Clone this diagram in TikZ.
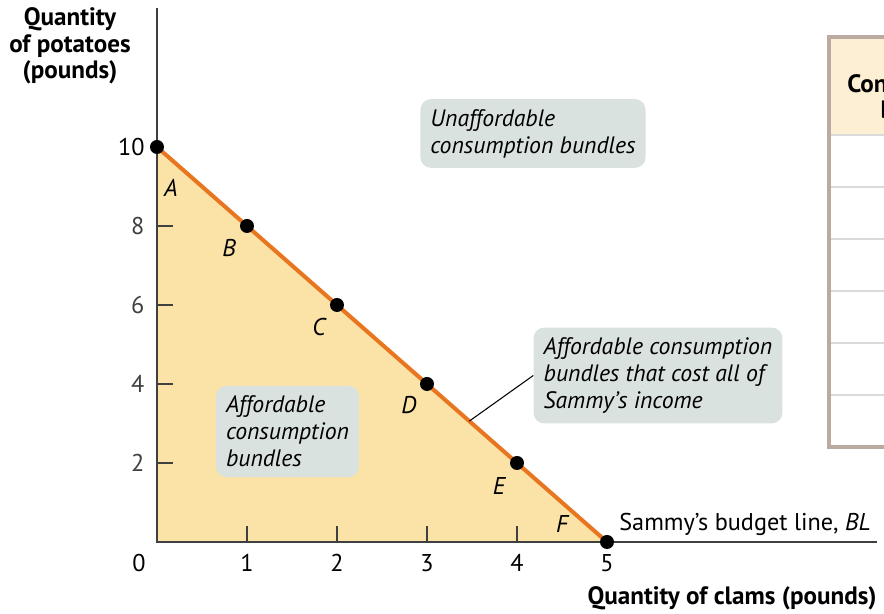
\documentclass[tikz,border=0pt]{standalone}
\usepackage{fontspec}
\setmainfont{PT Sans}
\usepackage{xcolor}
\definecolor{budget}{RGB}{232, 118, 32}
\definecolor{affordable}{RGB}{251, 227, 168}
\definecolor{notefill}{RGB}{218, 226, 223}
\definecolor{tableframe}{RGB}{187, 170, 160}
\definecolor{tablehead}{RGB}{252, 239, 212}
\definecolor{tablerule}{RGB}{218, 218, 218}
\usepackage{tikz}
\usetikzlibrary{positioning}

\tikzset{
	txt/.style={font=\fontsize{13.8}{16}\selectfont},
	bundle/.style={circle, fill=black, inner sep=0pt, minimum size=0.28cm},
	ptlabel/.style={font=\fontsize{13.8}{16}\selectfont\itshape},
	note/.style={fill=notefill, rounded corners=6pt, align=left, inner xsep=0.2cm, inner ysep=0.2cm, font=\fontsize{13.5}{15.4}\selectfont\itshape},
	axislabel/.style={font=\fontsize{14.3}{15.2}\selectfont\bfseries, align=center}
}

\begin{document}
\begin{tikzpicture}[x=1.8cm, y=0.79cm]
		\useasboundingbox (-3.14cm,-1.44cm) rectangle (14.54cm,10.84cm);
		\clip (-3.14cm,-1.44cm) rectangle (14.54cm,10.84cm);
		% affordable set
		\fill[affordable] (0,0) -- (0,10) -- (5,0) -- cycle;
		% axes and ticks
		\draw[black!75, line width=0.7pt] (0,13.52) -- (0,0) -- (8,0);
		\foreach \q in {2,4,6,8} \draw[black!75, line width=0.7pt] (0,\q) -- ++(0.32cm,0) node[txt, anchor=east, inner sep=0pt, xshift=-0.56cm]{\q};
		\foreach \q in {1,2,3,4} \draw[black!75, line width=0.7pt] (\q,0) -- ++(0,0.32cm);
		\foreach \q in {1,...,5} \node[txt] (xt\q) at (\q,0) [yshift=-0.42cm]{\q};
		\node[txt] (xt0) at (-0.36cm,-0.42cm) {0};
		\node[txt, anchor=east, inner sep=0pt] (yt10) at (-0.24cm,7.9cm) {10};
		\node[axislabel] (ylab) at (-1.74cm,9.92cm) {Quantity\\of potatoes\\(pounds)};
		\node[axislabel, anchor=east, inner sep=0pt] (xlab) at (14.4cm,-1.12cm) {Quantity of clams (pounds)};
		% budget line
		\draw[budget, line width=2.3pt] (0,10) -- (5,0);
		\node[bundle] (A) at (0,10) {};
		\node[bundle] (B) at (1,8) {};
		\node[bundle] (C) at (2,6) {};
		\node[bundle] (D) at (3,4) {};
		\node[bundle] (E) at (4,2) {};
		\node[bundle] (F) at (5,0) {};
		\node[ptlabel] at (0.28cm,7.08cm) {A};
		\node[ptlabel] at (1.44cm,5.88cm) {B};
		\node[ptlabel] at (3.24cm,4.30cm) {C};
		\node[ptlabel] at (5.04cm,2.74cm) {D};
		\node[ptlabel] at (6.84cm,1.12cm) {E};
		\node[ptlabel] at (8.10cm,0.36cm) {F};
		\node[txt, anchor=west, inner sep=0pt] (bl) at (9.24cm,0.36cm) {Sammy’s budget line, \textit{BL}};
		% notes
		\node[note] (unaff) at (7.52cm,8.17cm) {Unaffordable\\consumption bundles};
		\node[note] (aff) at (2.61cm,2.21cm) {Affordable\\consumption\\bundles};
		\node[note] (allinc) at (10.02cm,3.33cm) {Affordable consumption\\bundles that cost all of\\Sammy’s income};
		\coordinate (onbl) at (3.47,3.06);
		\draw[black, line width=0.6pt] (allinc.west) -- (onbl);
		% table at the right edge
		\fill[tablehead] (13.44cm,10.1cm) rectangle (15cm,8.14cm);
		\foreach \r in {7.10,6.06,5.02,3.98,2.94} \draw[tablerule, line width=0.8pt] (13.44cm,\r cm) -- (15cm,\r cm);
		\draw[tablerule, line width=0.8pt] (13.44cm,8.14cm) -- (15cm,8.14cm);
		\draw[tableframe, line width=2.8pt] (15cm,10.1cm) -- (13.44cm,10.1cm) -- (13.44cm,1.9cm) -- (15cm,1.9cm);
		\node[axislabel, anchor=north west, inner sep=0pt] (thead) at (13.8cm,9.36cm) {Consumption\\bundle};
	\end{tikzpicture}
\end{document}
